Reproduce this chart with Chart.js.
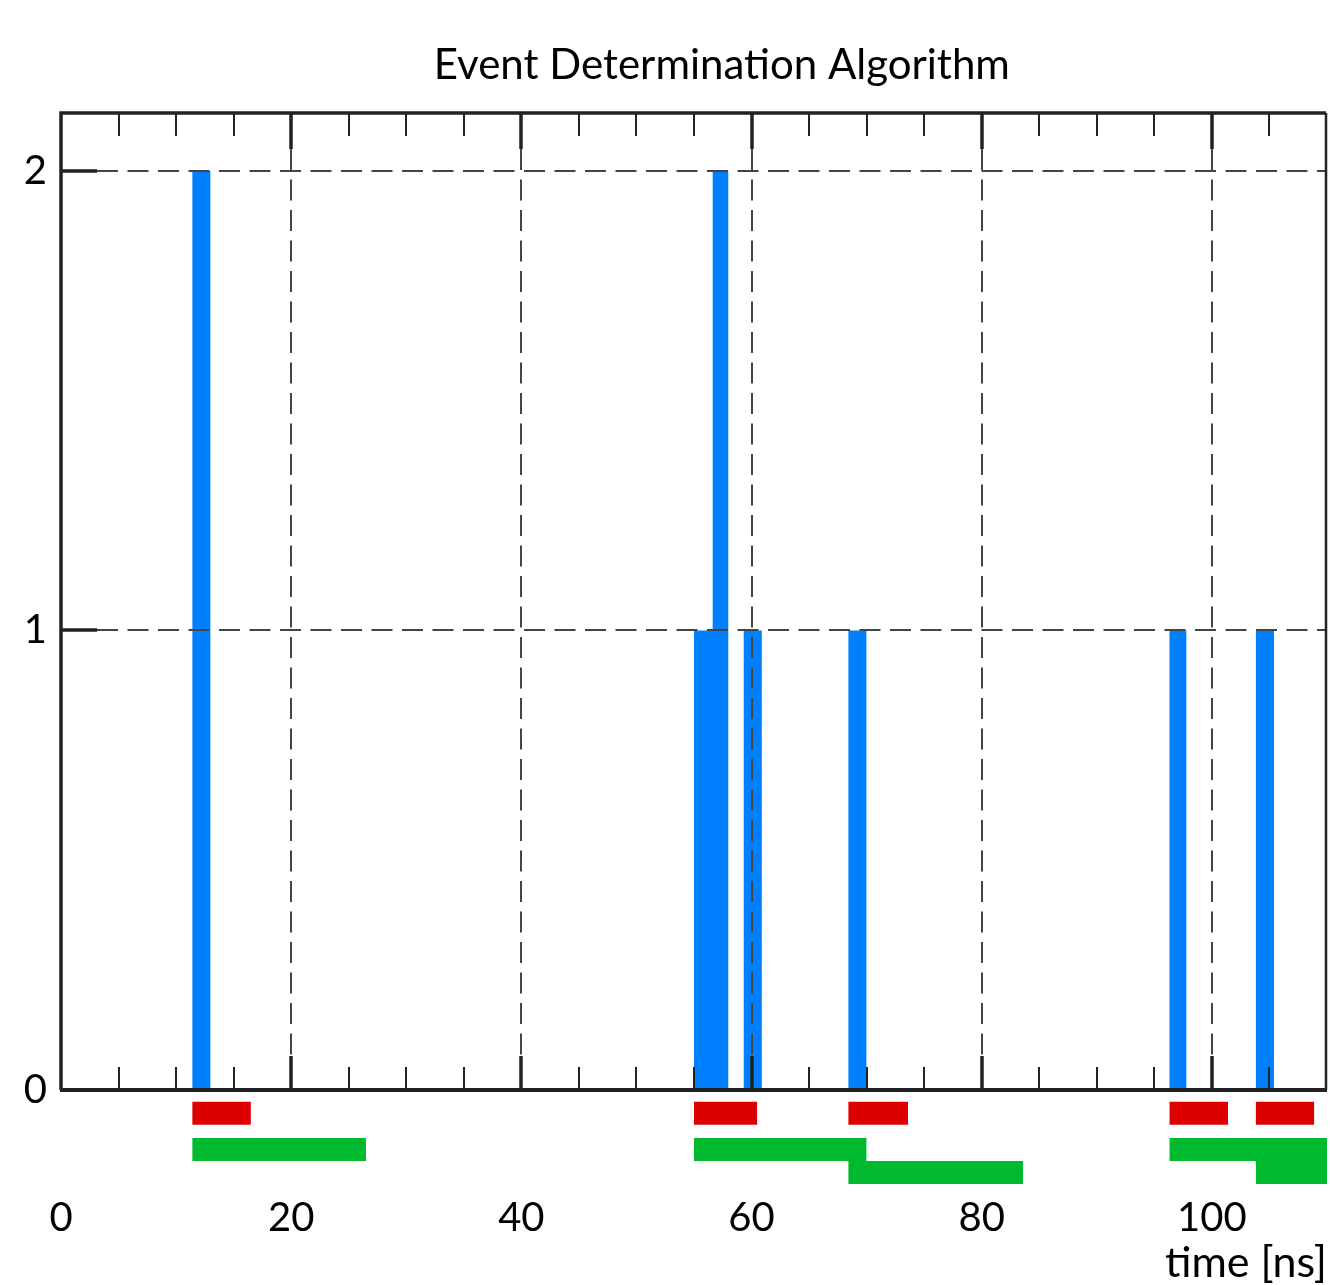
<!DOCTYPE html>
<html>
<head>
<meta charset="utf-8">
<script src="https://cdn.jsdelivr.net/npm/chart.js@4/dist/chart.umd.min.js"></script>
<style>
  html, body { margin: 0; padding: 0; background: #fff; }
  .wrap { width: 1330px; height: 1285px; }
</style>
</head>
<body>
<div class="wrap"><canvas class="js-chart"></canvas></div>
<script>
const TITLE = "Event Determination Algorithm";
const X_LABEL = "time [ns]";

// hit histogram (blue)
const hitStart = [11.4, 55.0, 56.6, 59.3, 68.4, 96.3, 103.8];
const hitEnd = [13.0, 56.7, 58.0, 60.9, 70.0, 97.8, 105.4];
const hitCount = [2, 1, 2, 1, 1, 1, 1];

// short windows (red)
const shortStart = [11.4, 55.0, 68.4, 96.3, 103.8];
const shortEnd = [16.5, 60.5, 73.6, 101.4, 108.9];

// long windows (green), lane 0 = upper row, lane 1 = lower row
const longStart = [11.4, 55.0, 68.4, 96.3, 103.8];
const longEnd = [26.5, 70.0, 83.6, 111.4, 118.9];
const longLane = [0, 0, 1, 0, 1];

const xTicks = [0, 20, 40, 60, 80, 100];
const xMinorTicks = [5, 10, 15, 25, 30, 35, 45, 50, 55, 65, 70, 75, 85, 90, 95, 105];
const yTicks = [0, 1, 2];

const FONT = "Lato, 'Open Sans', sans-serif";
const BLUE = "#0080ff";
const RED = "#dd0000";
const GREEN = "#00b92e";
const INK = "#222";

// lanes below the axis, in y units
const RED_LANE = [-0.026, -0.076];
const GREEN_LANES = [[-0.1045, -0.1545], [-0.1545, -0.2046]];

function rect(x0, x1, base, top, color) {
  return {
    type: "line",
    data: [{ x: x0, y: top }, { x: x1, y: top }],
    fill: { value: base },
    backgroundColor: color,
    borderColor: color,
    borderWidth: 0,
    pointRadius: 0,
    tension: 0,
  };
}

const datasets = [];
hitStart.forEach((s, i) => datasets.push(rect(s, hitEnd[i], 0, hitCount[i], BLUE)));
shortStart.forEach((s, i) => datasets.push(rect(s, shortEnd[i], RED_LANE[0], RED_LANE[1], RED)));
longStart.forEach((s, i) => {
  const lane = GREEN_LANES[longLane[i]];
  datasets.push(rect(s, longEnd[i], lane[0], lane[1], GREEN));
});

const framePlugin = {
  id: "frame",
  afterDatasetsDraw(chart) {
    const { ctx, chartArea: a, scales: { x, y } } = chart;
    const y0 = y.getPixelForValue(0);
    ctx.save();

    // dashed grid
    ctx.strokeStyle = "#444";
    ctx.lineWidth = 2;
    ctx.setLineDash([21, 9.5]);
    xTicks.slice(1).forEach((v) => {
      const px = Math.round(x.getPixelForValue(v));
      ctx.beginPath();
      ctx.moveTo(px, a.top + 36);
      ctx.lineTo(px, y0 - 34);
      ctx.stroke();
    });
    yTicks.slice(1).forEach((v) => {
      const py = Math.round(y.getPixelForValue(v));
      ctx.beginPath();
      ctx.moveTo(a.left + 36, py);
      ctx.lineTo(a.right, py);
      ctx.stroke();
    });
    ctx.setLineDash([]);

    // minor ticks
    ctx.strokeStyle = INK;
    ctx.lineWidth = 2;
    xMinorTicks.forEach((v) => {
      const px = Math.round(x.getPixelForValue(v));
      ctx.beginPath();
      ctx.moveTo(px, a.top);
      ctx.lineTo(px, a.top + 23);
      ctx.moveTo(px, y0);
      ctx.lineTo(px, y0 - 23);
      ctx.stroke();
    });

    // major ticks
    ctx.lineWidth = 3.5;
    xTicks.slice(1).forEach((v) => {
      const px = Math.round(x.getPixelForValue(v));
      ctx.beginPath();
      ctx.moveTo(px, a.top);
      ctx.lineTo(px, a.top + 36);
      ctx.moveTo(px, y0);
      ctx.lineTo(px, y0 - 34);
      ctx.stroke();
    });
    yTicks.slice(1).forEach((v) => {
      const py = Math.round(y.getPixelForValue(v));
      ctx.beginPath();
      ctx.moveTo(a.left, py);
      ctx.lineTo(a.left + 36, py);
      ctx.stroke();
    });

    // frame: left, top, right and the zero axis
    ctx.lineWidth = 3.5;
    ctx.beginPath();
    ctx.moveTo(a.left, y0);
    ctx.lineTo(a.left, a.top);
    ctx.lineTo(a.right - 1, a.top);
    ctx.stroke();
    ctx.lineWidth = 2.5;
    ctx.beginPath();
    ctx.moveTo(a.right - 1, a.top);
    ctx.lineTo(a.right - 1, y0);
    ctx.stroke();
    ctx.lineWidth = 4;
    ctx.beginPath();
    ctx.moveTo(a.left - 1, y0);
    ctx.lineTo(a.right, y0);
    ctx.stroke();

    ctx.restore();
  },
  afterDraw(chart) {
    const { ctx, chartArea: a } = chart;
    ctx.save();
    ctx.fillStyle = "#000";
    ctx.font = "42px " + FONT;
    ctx.textAlign = "center";
    ctx.textBaseline = "middle";
    ctx.fillText(TITLE, a.left + (a.right - a.left) * 0.522, a.top - 48);
    ctx.restore();
  },
};

new Chart(document.querySelector(".js-chart").getContext("2d"), {
  type: "line",
  data: { datasets },
  plugins: [framePlugin],
  options: {
    responsive: true,
    maintainAspectRatio: false,
    animation: false,
    layout: { padding: { top: 113, right: 3, left: 0, bottom: 0 } },
    plugins: {
      legend: { display: false },
      tooltip: { enabled: false },
      title: { display: false },
    },
    scales: {
      x: {
        type: "linear",
        min: 0,
        max: 110,
        grid: { display: false, drawTicks: false },
        border: { display: false },
        afterBuildTicks(scale) {
          scale.ticks = xTicks.map((value) => ({ value }));
        },
        afterFit(scale) {
          scale.height = 94;
        },
        ticks: {
          padding: 3,
          color: "#000",
          font: { family: FONT, size: 40 },
        },
        title: {
          display: true,
          text: X_LABEL,
          align: "end",
          color: "#000",
          font: { family: FONT, size: 43, lineHeight: 1 },
          padding: 0,
        },
      },
      y: {
        type: "linear",
        min: -0.22,
        max: 2.126,
        grid: { display: false, drawTicks: false },
        border: { display: false },
        afterBuildTicks(scale) {
          scale.ticks = yTicks.map((value) => ({ value }));
        },
        afterFit(scale) {
          scale.width = 61;
        },
        ticks: {
          padding: 14,
          color: "#000",
          font: { family: FONT, size: 40 },
        },
      },
    },
  },
});
</script>
</body>
</html>
